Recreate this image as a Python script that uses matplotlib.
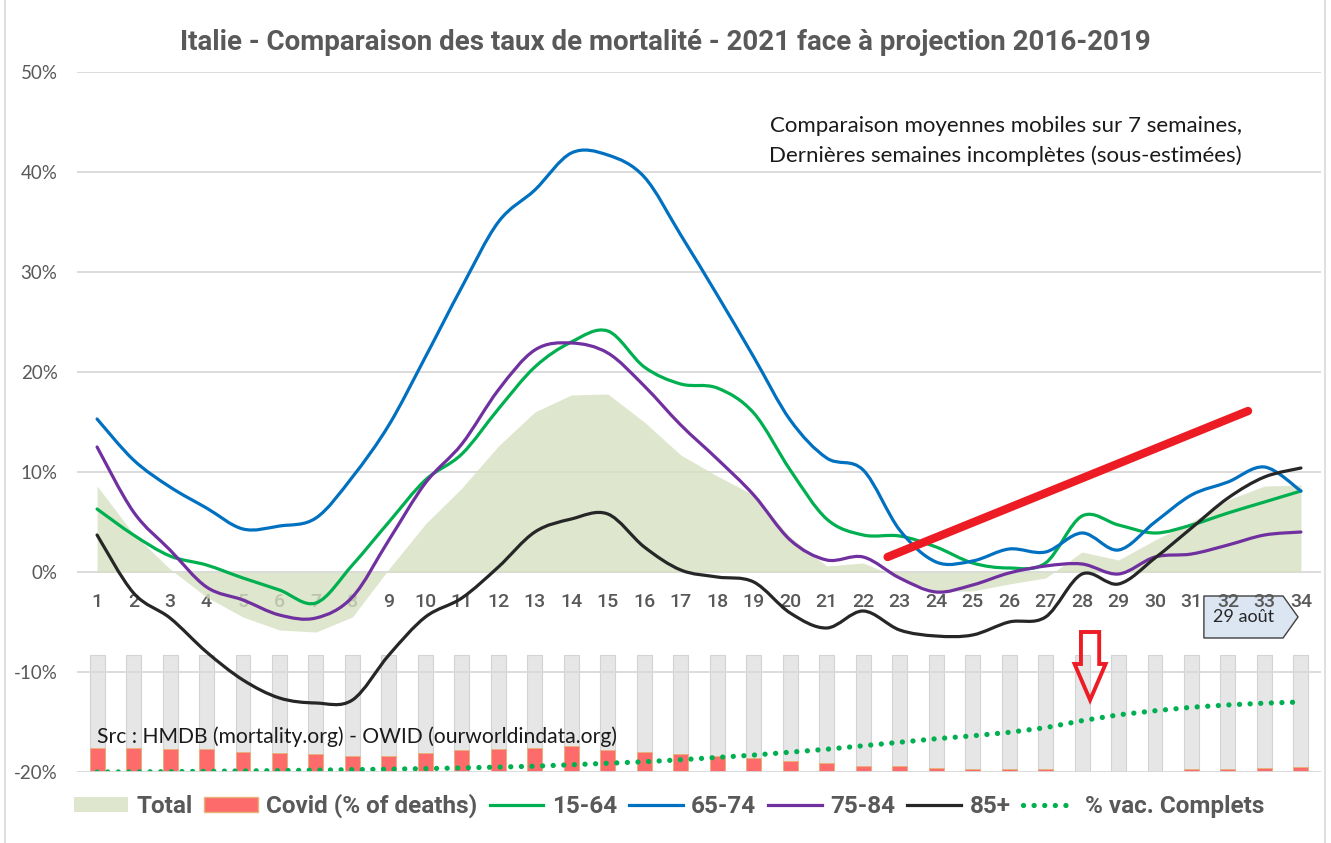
import numpy as np
import matplotlib
matplotlib.use('Agg')
import matplotlib.pyplot as plt
from matplotlib.path import Path
from matplotlib.patches import PathPatch, Polygon, FancyArrow, Patch
from matplotlib.lines import Line2D
import matplotlib.ticker as mticker

# ---------------- data ----------------
weeks = list(range(1, 35))
week_labels = [str(w) for w in weeks]

total = [8.6, 3.8, 0.3, -2.5, -4.5, -5.8, -6.0, -4.5, 0.3, 4.8, 8.4, 12.6, 16.0, 17.7,
         17.8, 15.0, 11.7, 9.6, 7.7, 3.5, 0.6, 0.9, -0.6, -1.9, -1.9, -1.2, -0.6, 2.0,
         1.2, 3.2, 5.0, 7.2, 8.6, 8.7]
age_15_64 = [6.3, 3.7, 1.6, 0.7, -0.6, -1.8, -3.1, 0.7, 5.0, 9.2, 11.8, 16.3, 20.5, 23.0,
             24.1, 20.5, 18.8, 18.4, 15.9, 10.2, 5.3, 3.7, 3.6, 2.5, 0.9, 0.4, 0.9, 5.6,
             4.7, 3.9, 4.7, 5.9, 7.0, 8.1]
age_65_74 = [15.3, 11.2, 8.5, 6.4, 4.3, 4.6, 5.4, 9.5, 14.7, 21.5, 28.5, 35.0, 38.2, 41.9,
             41.7, 39.5, 33.7, 27.7, 21.5, 15.2, 11.4, 10.2, 4.2, 1.0, 1.1, 2.3, 2.0, 3.9,
             2.2, 5.0, 7.7, 9.0, 10.5, 8.1]
age_75_84 = [12.5, 6.0, 2.2, -1.5, -2.8, -4.3, -4.6, -2.5, 3.2, 8.9, 12.8, 18.2, 22.2, 22.9,
             21.9, 18.6, 14.7, 11.3, 7.7, 3.2, 1.2, 1.5, -0.6, -2.0, -1.3, -0.1, 0.6, 0.8,
             -0.2, 1.5, 1.8, 2.7, 3.7, 4.0]
age_85p = [3.7, -2.1, -4.6, -8.0, -10.8, -12.6, -13.1, -12.8, -8.3, -4.5, -2.6, 0.5, 4.0, 5.3,
           5.8, 2.5, 0.2, -0.5, -1.0, -4.1, -5.6, -3.9, -5.8, -6.4, -6.3, -5.0, -4.5, -0.2,
           -1.2, 1.4, 4.4, 7.4, 9.5, 10.4]
covid_pct = [20.8, 20.8, 19.4, 19.4, 17.1, 16.5, 15.2, 13.7, 13.7, 16.0, 18.9, 19.4, 20.6, 22.3,
             18.9, 17.1, 15.5, 13.7, 12.3, 9.4, 7.5, 5.1, 5.1, 3.2, 2.3, 2.3, 2.3, 0.8,
             0.8, 0.8, 2.3, 2.3, 3.2, 4.3]
full_bar = [100] * 34
vacc_pct = [0.0, 0.1, 0.3, 0.6, 0.9, 1.2, 1.6, 2.0, 2.4, 2.9, 3.5, 4.2, 5.0, 6.2,
            7.5, 8.8, 10.5, 12.5, 14.5, 17.0, 19.5, 22.5, 25.5, 28.5, 31.0, 34.0, 38.0, 44.0,
            49.0, 52.5, 55.5, 57.5, 59.0, 60.0]

trend_x = [22.67, 32.55]
trend_y = [1.5, 16.1]

y_ticks = [-20, -10, 0, 10, 20, 30, 40, 50]

title = "Italie - Comparaison des taux de mortalité - 2021 face à projection 2016-2019"

# ---------------- style ----------------
C_TOTAL = '#d6e0c1'
C_COVID = '#fe6b6b'
C_GREEN = '#00b050'
C_BLUE = '#0070c0'
C_PURPLE = '#7030a0'
C_BLACK = '#262626'
C_GRAY_TXT = '#595959'


def smooth_path(xs, ys):
    P = np.column_stack([xs, ys]).astype(float)
    n = len(P)
    verts = [P[0]]
    codes = [Path.MOVETO]
    for i in range(n - 1):
        p0 = P[i - 1] if i > 0 else P[i]
        p1 = P[i]
        p2 = P[i + 1]
        p3 = P[i + 2] if i + 2 < n else P[i + 1]
        c1 = p1 + (p2 - p0) / 6.0
        c2 = p2 - (p3 - p1) / 6.0
        verts += [c1, c2, p2]
        codes += [Path.CURVE4] * 3
    return Path(verts, codes)


W, H = 1331, 843
fig = plt.figure(figsize=(W / 100, H / 100), dpi=100)
fig.patch.set_facecolor('white')

ax_left, ax_right, ax_top, ax_bot = 77, 1321, 72, 772
ax = fig.add_axes([ax_left / W, 1 - ax_bot / H, (ax_right - ax_left) / W, (ax_bot - ax_top) / H])
ax2 = ax.twinx()
ax2.set_zorder(ax.get_zorder() - 1)
ax.patch.set_visible(False)

ax.set_xlim(0.45, 34.55)
ax.set_ylim(-20, 50)
ax2.set_ylim(0, 600)

# secondary axis: bars + vaccination
ax2.bar(weeks, full_bar, width=0.41, color='#e6e6e6', edgecolor='#d3d3d3', lw=0.8, zorder=1)
ax2.bar(weeks, covid_pct, width=0.41, color=C_COVID, edgecolor='#e6b478', lw=0.6, zorder=2)
ax2.plot(weeks, vacc_pct, color=C_GREEN, lw=3.8, linestyle=(0, (0.01, 2.0)),
         dash_capstyle='round', zorder=3)
ax2.set_yticks([])
for s in ax2.spines.values():
    s.set_visible(False)

# primary
ax.set_axisbelow(True)
ax.yaxis.grid(True, color='#d9d9d9', lw=1.3)
ax.fill_between(weeks, total, 0, color=C_TOTAL, alpha=0.8, lw=0, zorder=1)

for ys, col, z in [(age_15_64, C_GREEN, 3), (age_65_74, C_BLUE, 4),
                   (age_75_84, C_PURPLE, 5), (age_85p, C_BLACK, 6)]:
    ax.add_patch(PathPatch(smooth_path(weeks, ys), fill=False, edgecolor=col, lw=2.3,
                           zorder=z, capstyle='round', joinstyle='round'))

ax.plot(trend_x, trend_y, color='#ed1c24', lw=6.0, solid_capstyle='round', zorder=10)
ax.add_patch(FancyArrow(28.22, -6.0, 0, -6.8, width=0.5, head_width=0.85, head_length=3.6,
                        length_includes_head=True, facecolor='none', edgecolor='#ed1c24',
                        lw=2.8, zorder=11))

ax.add_patch(Polygon([(31.34, -2.4), (33.51, -2.4), (33.92, -4.5), (33.51, -6.6), (31.34, -6.6)],
                     closed=True, facecolor='#dce6f2', edgecolor='#3f3f3f', lw=1.0, zorder=0.4))
ax.text(32.42, -4.5, '29 août', ha='center', va='center', fontfamily='Lato', fontsize=13,
        color='#262626', zorder=9)

for s in ax.spines.values():
    s.set_visible(False)
ax.spines['bottom'].set_position(('data', 0))
ax.set_xticks(weeks)
ax.set_xticklabels(week_labels)
ax.tick_params(axis='x', length=0, pad=15, labelsize=14, labelcolor=C_GRAY_TXT)
for lab in ax.get_xticklabels():
    lab.set_fontfamily('Roboto')
    lab.set_fontweight('medium')
ax.set_yticks(y_ticks)
ax.yaxis.set_major_formatter(mticker.FuncFormatter(lambda v, p: f"{v:.0f}%"))
ax.tick_params(axis='y', length=0, pad=14, labelsize=13.5, labelcolor=C_GRAY_TXT)
for lab in ax.get_yticklabels():
    lab.set_fontfamily('Lato')

# texts
fig.text(665 / W, 1 - 42 / H, title, ha='center', va='center', fontfamily='Roboto',
         fontweight='bold', fontsize=20, color=C_GRAY_TXT)
fig.text(770 / W, 1 - 126 / H, 'Comparaison moyennes mobiles sur 7 semaines,',
         ha='left', va='center', fontfamily='Lato', fontsize=16, color='#1a1a1a')
fig.text(769 / W, 1 - 156 / H, 'Dernières semaines incomplètes (sous-estimées)',
         ha='left', va='center', fontfamily='Lato', fontsize=16, color='#1a1a1a')
fig.text(97 / W, 1 - 737 / H, 'Src : HMDB (mortality.org) - OWID (ourworldindata.org)',
         ha='left', va='center', fontfamily='Lato', fontsize=15.2, color='#1a1a1a', zorder=20)

# legend
handles = [
    Patch(facecolor='#dee6cd', edgecolor='none', label='Total'),
    Patch(facecolor=C_COVID, edgecolor='#e6b478', label='Covid (% of deaths)'),
    Line2D([], [], color=C_GREEN, lw=2.3, label='15-64'),
    Line2D([], [], color=C_BLUE, lw=2.3, label='65-74'),
    Line2D([], [], color=C_PURPLE, lw=2.3, label='75-84'),
    Line2D([], [], color=C_BLACK, lw=2.3, label='85+'),
    Line2D([], [], color=C_GREEN, lw=3.8, linestyle=(0, (0.01, 2.0)), dash_capstyle='round',
           label='% vac. Complets'),
]
fig.legend(handles=handles, loc='center', bbox_to_anchor=(669 / W, 1 - 806 / H), ncol=7,
           frameon=False, prop=dict(family='Roboto', weight='bold', size=17.5),
           labelcolor=C_GRAY_TXT, handlelength=2.2, handleheight=0.6, columnspacing=0.5,
           handletextpad=0.35)

# chart border
for xb in (5, 1325):
    fig.add_artist(Line2D([xb / W, xb / W], [0, 1], transform=fig.transFigure,
                          color='#d9d9d9', lw=1.2))

fig.savefig('out.png', dpi=100)
